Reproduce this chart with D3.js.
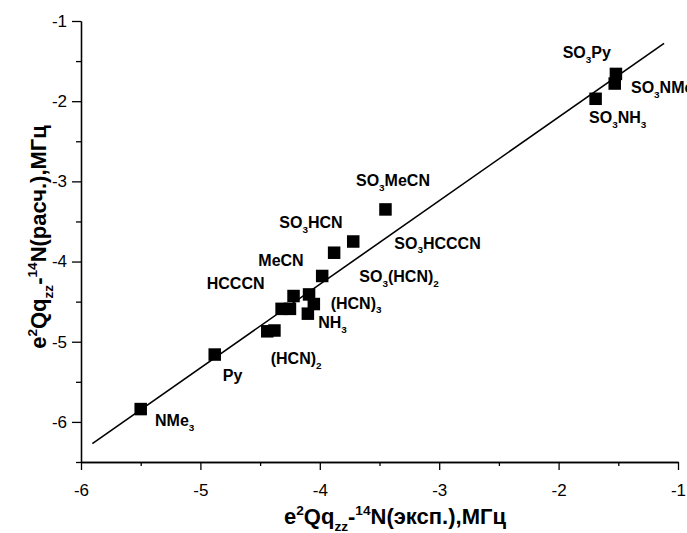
<!DOCTYPE html>
<html>
<head>
<meta charset="utf-8">
<script src="https://cdn.jsdelivr.net/npm/d3@7"></script>
<style>
  html, body { margin: 0; padding: 0; background: #fff; }
  svg { display: block; }
</style>
</head>
<body>
<svg id="chart" width="687" height="533"></svg>
<script>
// Experimental vs. calculated e2Qq_zz(14N), MHz
const expValues  = [-1.52, -1.53, -1.69, -3.45, -3.72, -3.88, -3.98,
                    -4.22, -4.09, -4.05, -4.32, -4.25, -4.10, -4.44, -4.38,
                    -4.88, -5.50];
const calcValues = [-1.66, -1.78, -1.97, -3.35, -3.75, -3.89, -4.18,
                    -4.43, -4.41, -4.53, -4.59, -4.59, -4.65, -4.87, -4.86,
                    -5.16, -5.84];

// Linear fit drawn across the data range
const fitX = [-5.905, -1.117];
const fitY = [-6.27, -1.278];

// Compound names ("_{}" = subscript) and where each name is written, in axis units
const labelNames = ["SO_{3}Py", "SO_{3}NMe_{3}", "SO_{3}NH_{3}", "SO_{3}MeCN", "SO_{3}HCN",
                    "SO_{3}HCCCN", "MeCN", "SO_{3}(HCN)_{2}", "HCCCN", "(HCN)_{3}",
                    "NH_{3}", "(HCN)_{2}", "Py", "NMe_{3}"];
const labelX = [-1.966, -1.394, -1.745, -3.697, -4.339, -3.376, -4.515, -3.669,
                -4.947, -3.909, -4.013, -4.411, -4.813, -5.380];
const labelY = [-1.458, -1.895, -2.277, -3.059, -3.579, -3.839, -4.057, -4.257,
                -4.348, -4.587, -4.835, -5.280, -5.488, -6.054];

const xMajor = [-6, -5, -4, -3, -2, -1];
const xMinor = [-5.5, -4.5, -3.5, -2.5, -1.5];
const yMajor = [-6, -5, -4, -3, -2, -1];
const yMinor = [-6.5, -5.5, -4.5, -3.5, -2.5, -1.5];

const xTitle = "e^{2}Qq_{zz}-^{14}N(эксп.),МГц";
const yTitle = "e^{2}Qq_{zz}-^{14}N(расч.),МГц";

const svg = d3.select("#chart");
const font = "'Liberation Sans', Arial, Helvetica, sans-serif";

const x = d3.scaleLinear().domain([-6, -1]).range([81, 678]);
const y = d3.scaleLinear().domain([-6.5, -1]).range([462, 21]);
const x0 = 462, y0 = 81;

// Writes a string with _{..} subscripts and ^{..} superscripts as tspans
function richText(sel, str, size) {
  const parts = [];
  const re = /([_^])\{([^}]*)\}|([^_^]+)/g;
  let m;
  while ((m = re.exec(str)) !== null) {
    if (m[3]) parts.push({ t: m[3], s: 0 });
    else parts.push({ t: m[2], s: m[1] === "_" ? 1 : -1 });
  }
  let shift = 0;
  parts.forEach(p => {
    const target = p.s === 1 ? size * 0.3 : p.s === -1 ? -size * 0.42 : 0;
    sel.append("tspan")
      .attr("dy", target - shift)
      .attr("font-size", p.s ? size * 0.62 : size)
      .text(p.t);
    shift = target;
  });
}

// Axes
const xAxisMajor = d3.axisBottom(x).tickValues(xMajor).tickSize(8).tickSizeOuter(0)
  .tickPadding(14).tickFormat(d => String(d));
const xAxisMinor = d3.axisBottom(x).tickValues(xMinor).tickSize(4).tickSizeOuter(0)
  .tickFormat("");
const yAxisMajor = d3.axisLeft(y).tickValues(yMajor).tickSize(9).tickSizeOuter(0)
  .tickPadding(5).tickFormat(d => String(d));
const yAxisMinor = d3.axisLeft(y).tickValues(yMinor).tickSize(5).tickSizeOuter(0)
  .tickFormat("");

function styleAxis(g) {
  g.selectAll("path, line").attr("stroke", "#000").attr("stroke-width", 1.3);
  g.selectAll("text").attr("font-family", font).attr("font-size", 17).attr("fill", "#000");
}

svg.append("g").attr("transform", `translate(0,${x0})`).call(xAxisMinor).call(styleAxis);
svg.append("g").attr("transform", `translate(0,${x0})`).call(xAxisMajor).call(styleAxis);
svg.append("g").attr("transform", `translate(${y0},0)`).call(yAxisMinor).call(styleAxis);
svg.append("g").attr("transform", `translate(${y0},0)`).call(yAxisMajor).call(styleAxis);

// Axis titles
const xt = svg.append("text")
  .attr("x", 395).attr("y", 524)
  .attr("text-anchor", "middle")
  .attr("font-family", font).attr("font-weight", "bold").attr("fill", "#000");
richText(xt, xTitle, 22);

const yt = svg.append("text")
  .attr("transform", "translate(46,237) rotate(-90)")
  .attr("text-anchor", "middle")
  .attr("font-family", font).attr("font-weight", "bold").attr("fill", "#000");
richText(yt, yTitle, 22);

// Fit line
svg.append("line")
  .attr("x1", x(fitX[0])).attr("y1", y(fitY[0]))
  .attr("x2", x(fitX[1])).attr("y2", y(fitY[1]))
  .attr("stroke", "#000").attr("stroke-width", 1.6);

// Points
const sq = 12.5;
svg.append("g").selectAll("rect")
  .data(expValues.map((v, i) => [v, calcValues[i]]))
  .join("rect")
  .attr("x", d => x(d[0]) - sq / 2)
  .attr("y", d => y(d[1]) - sq / 2)
  .attr("width", sq).attr("height", sq)
  .attr("fill", "#000");

// Compound labels
labelNames.forEach((name, i) => {
  const t = svg.append("text")
    .attr("x", x(labelX[i])).attr("y", y(labelY[i]))
    .attr("font-family", font).attr("font-weight", "bold").attr("fill", "#000");
  richText(t, name, 16);
});
</script>
</body>
</html>
